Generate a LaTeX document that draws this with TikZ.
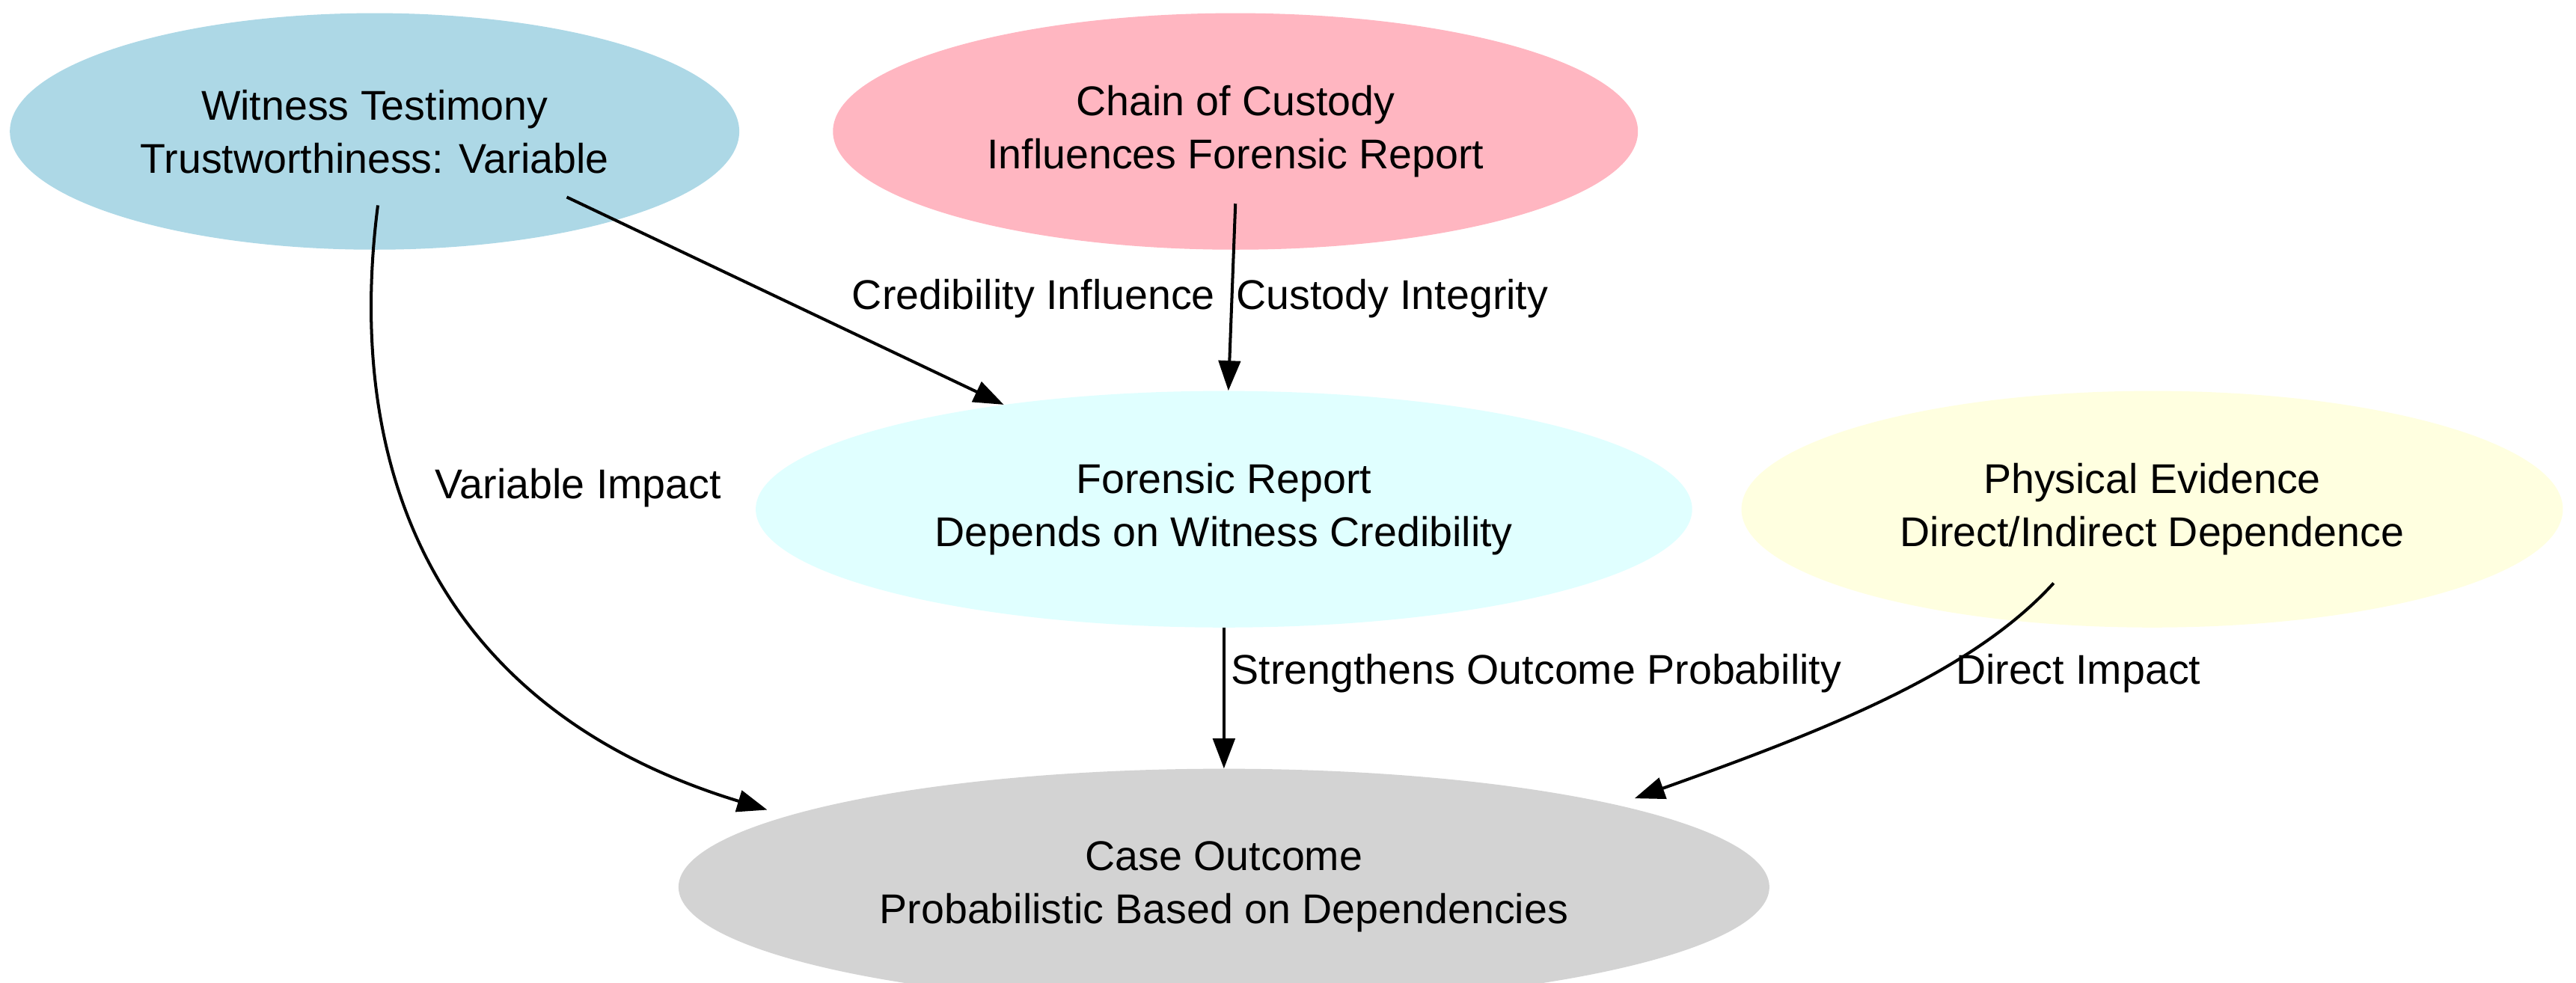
\documentclass[tikz,border=0pt]{standalone}
\usepackage{fontspec}
\setmainfont{Liberation Sans}
\usetikzlibrary{shapes.geometric,arrows.meta}
\begin{document}
\begin{tikzpicture}[x=0.05cm,y=-0.05cm,
 nd/.style={ellipse,draw=none,inner sep=0pt,align=center,font=\fontsize{36}{46}\selectfont},
 ed/.style={-{Triangle[length=26pt,width=19pt]},line width=2.6pt},
 lb/.style={font=\fontsize{36}{46}\selectfont}]
\useasboundingbox (0,0) rectangle (1568,598);
\node[nd,fill={rgb,255:red,173;green,216;blue,230},minimum width=444*0.05cm,minimum height=144*0.05cm] (w) at (228,80) {Witness Testimony\\Trustworthiness: Variable};
\node[nd,fill={rgb,255:red,255;green,182;blue,193},minimum width=490*0.05cm,minimum height=144*0.05cm] (c) at (752,80) {Chain of Custody\\Influences Forensic Report};
\node[nd,fill={rgb,255:red,224;green,255;blue,255},minimum width=570*0.05cm,minimum height=144*0.05cm] (f) at (745,310) {Forensic Report\\Depends on Witness Credibility};
\node[nd,fill={rgb,255:red,255;green,255;blue,224},minimum width=500*0.05cm,minimum height=144*0.05cm] (p) at (1310,310) {Physical Evidence\\Direct/Indirect Dependence};
\node[nd,fill={rgb,255:red,211;green,211;blue,211},minimum width=664*0.05cm,minimum height=144*0.05cm] (o) at (745,540) {Case Outcome\\Probabilistic Based on Dependencies};
\coordinate (w1) at (345,120); \coordinate (w2) at (230,125);
\coordinate (c1) at (752,124); \coordinate (f1) at (745,382);
\coordinate (p1) at (1250,355);
\coordinate (o1) at (467,493); \coordinate (o2) at (995,486);
\draw[ed] (w1) -- (f);
\draw[ed] (c1) -- (f);
\draw[ed] (w2) .. controls (210,280) and (260,430) .. (o1);
\draw[ed] (f1) -- (o);
\draw[ed] (p1) .. controls (1200,410) and (1110,445) .. (o2);
\node[lb,anchor=east] (l1) at (742,182) {Credibility Influence};
\node[lb,anchor=west] (l2) at (750,182) {Custody Integrity};
\node[lb] (l3) at (352,297) {Variable Impact};
\node[lb,anchor=west] (l4) at (747,410) {Strengthens Outcome Probability};
\node[lb] (l5) at (1265,410) {Direct Impact};
\end{tikzpicture}
\end{document}
